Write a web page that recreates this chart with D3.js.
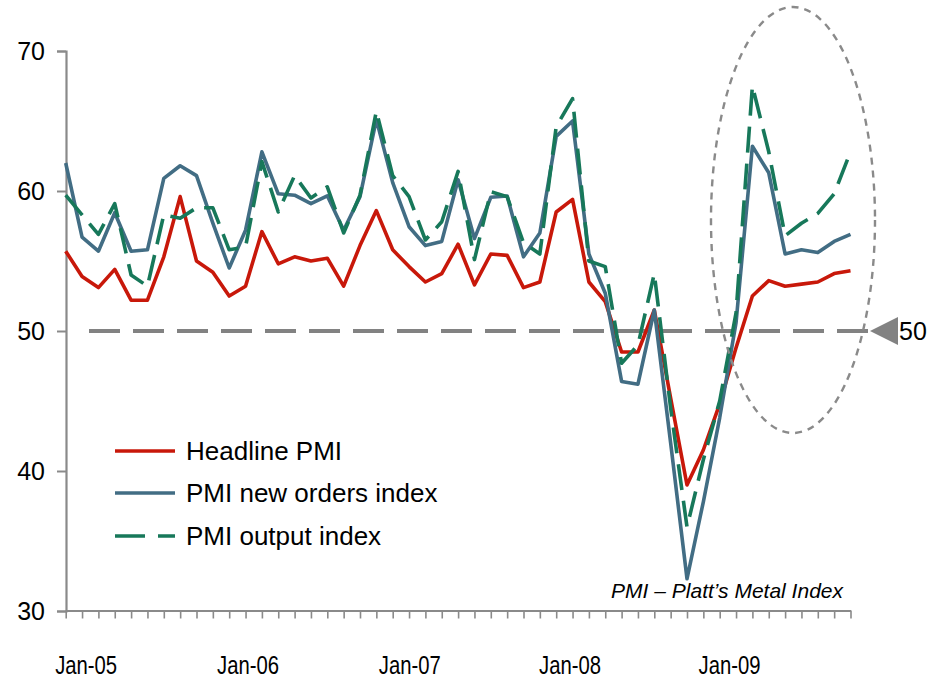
<!DOCTYPE html>
<html>
<head>
<meta charset="utf-8">
<script src="https://cdn.jsdelivr.net/npm/d3@7/dist/d3.min.js"></script>
<style>
  html, body { margin: 0; padding: 0; background: #fff; }
  svg { display: block; }
  text { font-family: "Liberation Sans", Arial, sans-serif; fill: #000; }
</style>
</head>
<body>
<svg id="chart" width="933" height="685"></svg>
<script>
// ---- data ----
const seriesNames = ["Headline PMI", "PMI new orders index", "PMI output index"];
const headline = [55.7, 53.9, 53.1, 54.4, 52.2, 52.2, 55.3, 59.6, 55.0, 54.2,
                  52.5, 53.2, 57.1, 54.8, 55.3, 55.0, 55.2, 53.2, 56.1, 58.6,
                  55.8, 54.6, 53.5, 54.1, 56.2, 53.3, 55.5, 55.4, 53.1, 53.5,
                  58.5, 59.4, 53.5, 52.1, 48.5, 48.5, 51.5, 45.2, 39.0, 41.5,
                  44.8, 48.8, 52.5, 53.6, 53.2, 53.35, 53.5, 54.1, 54.3];
const newOrders = [62.0, 56.7, 55.7, 58.45, 55.7, 55.8, 60.9, 61.8, 61.1, 57.7,
                   54.5, 57.2, 62.8, 59.8, 59.7, 59.1, 59.66, 57.2, 59.6, 65.1,
                   60.6, 57.45, 56.1, 56.4, 60.8, 56.6, 59.55, 59.64, 55.3, 57.0,
                   63.9, 65.0, 55.5, 52.7, 46.4, 46.2, 51.5, 42.0, 32.3, 37.8,
                   43.8, 50.6, 63.2, 61.3, 55.5, 55.8, 55.6, 56.4, 56.9];
const output = [59.7, 58.3, 56.9, 59.1, 54.0, 53.2, 58.3, 58.05, 58.8, 58.8,
                55.8, 56.0, 62.1, 58.5, 61.1, 59.5, 60.3, 57.0, 59.7, 65.7,
                61.1, 59.6, 56.5, 57.8, 61.4, 55.1, 59.95, 59.6, 56.3, 55.5,
                64.6, 66.6, 55.0, 54.6, 47.7, 49.0, 54.1, 44.5, 36.0, 40.8,
                45.0, 51.3, 67.5, 62.8, 56.8, 57.7, 58.4, 59.8, 62.8];
const xLabels = ["Jan-05", "Jan-06", "Jan-07", "Jan-08", "Jan-09"];
const xLabelIndex = [1.25, 11.15, 21.05, 30.85, 40.6];
const yTicks = [30, 40, 50, 60, 70];
const refValue = 50;
const noteText = "PMI \u2013 Platt\u2019s Metal Index";

// ---- layout ----
const svg = d3.select("#chart");
const n = headline.length;
const x = d3.scaleLinear().domain([0, n - 1]).range([65.7, 850.5]);
const y = d3.scaleLinear().domain([30, 70]).range([611, 51]);
const axisColor = "#8a8a8a";

// y axis
const yAxis = svg.append("g").attr("transform", "translate(66,0)")
  .call(d3.axisLeft(y).tickValues(yTicks).tickSize(9).tickPadding(12).tickFormat(d3.format("d")));
yAxis.select(".domain").attr("stroke", axisColor).attr("stroke-width", 2.2);
yAxis.selectAll(".tick line").attr("stroke", axisColor).attr("stroke-width", 2);
yAxis.selectAll(".tick text").style("font-size", "25px").style("font-family", "'Liberation Sans', Arial, sans-serif").attr("fill", "#000");

// x axis
const xAxis = svg.append("g").attr("transform", "translate(0,610.5)")
  .call(d3.axisBottom(x).tickValues(d3.range(n)).tickSize(8).tickSizeOuter(0).tickFormat(""));
xAxis.select(".domain").attr("stroke", axisColor).attr("stroke-width", 2.2);
xAxis.selectAll(".tick line").attr("stroke", axisColor).attr("stroke-width", 1.6);

svg.append("g").selectAll("text").data(xLabels).join("text")
  .attr("x", (d, i) => x(xLabelIndex[i]))
  .attr("y", 674)
  .attr("text-anchor", "middle")
  .attr("textLength", 62)
  .attr("lengthAdjust", "spacingAndGlyphs")
  .style("font-size", "25px")
  .text(d => d);

// reference 50 line
svg.append("line")
  .attr("x1", 89).attr("x2", 870)
  .attr("y1", y(refValue)).attr("y2", y(refValue))
  .attr("stroke", "#828282").attr("stroke-width", 4)
  .attr("stroke-dasharray", "31,13");
svg.append("path")
  .attr("d", `M870,${y(refValue)} L898,${y(refValue) - 14} L898,${y(refValue) + 14} Z`)
  .attr("fill", "#828282");
svg.append("text")
  .attr("x", 899).attr("y", y(refValue) + 9)
  .style("font-size", "25px")
  .text(String(refValue));

// lines
const line = d3.line().x((d, i) => x(i)).y(d => y(d));
const series = [
  { name: seriesNames[0], values: headline, color: "#c8180a", dash: null },
  { name: seriesNames[1], values: newOrders, color: "#426d84", dash: null },
  { name: seriesNames[2], values: output, color: "#17785a", dash: "26,11" }
];
series.forEach(s => {
  svg.append("path")
    .attr("d", line(s.values))
    .attr("fill", "none")
    .attr("stroke", s.color)
    .attr("stroke-width", 3.6)
    .attr("stroke-linejoin", "round")
    .attr("stroke-dasharray", s.dash);
});

// highlight ellipse
svg.append("ellipse")
  .attr("cx", 793).attr("cy", 220).attr("rx", 82).attr("ry", 213)
  .attr("fill", "none").attr("stroke", "#8a8a8a").attr("stroke-width", 2.4)
  .attr("stroke-dasharray", "7,6");

// legend
const legendY = [451, 493, 536];
const lg = svg.append("g");
series.forEach((s, i) => {
  lg.append("line")
    .attr("x1", 115).attr("x2", 175)
    .attr("y1", legendY[i]).attr("y2", legendY[i])
    .attr("stroke", s.color).attr("stroke-width", 3.6)
    .attr("stroke-dasharray", s.dash ? "30,13" : null);
  lg.append("text")
    .attr("x", 186).attr("y", legendY[i] + 9)
    .style("font-size", "26px")
    .text(s.name);
});

// note
svg.append("text")
  .attr("x", 843).attr("y", 598)
  .attr("text-anchor", "end")
  .style("font-size", "21px")
  .style("font-style", "italic")
  .text(noteText);
</script>
</body>
</html>
